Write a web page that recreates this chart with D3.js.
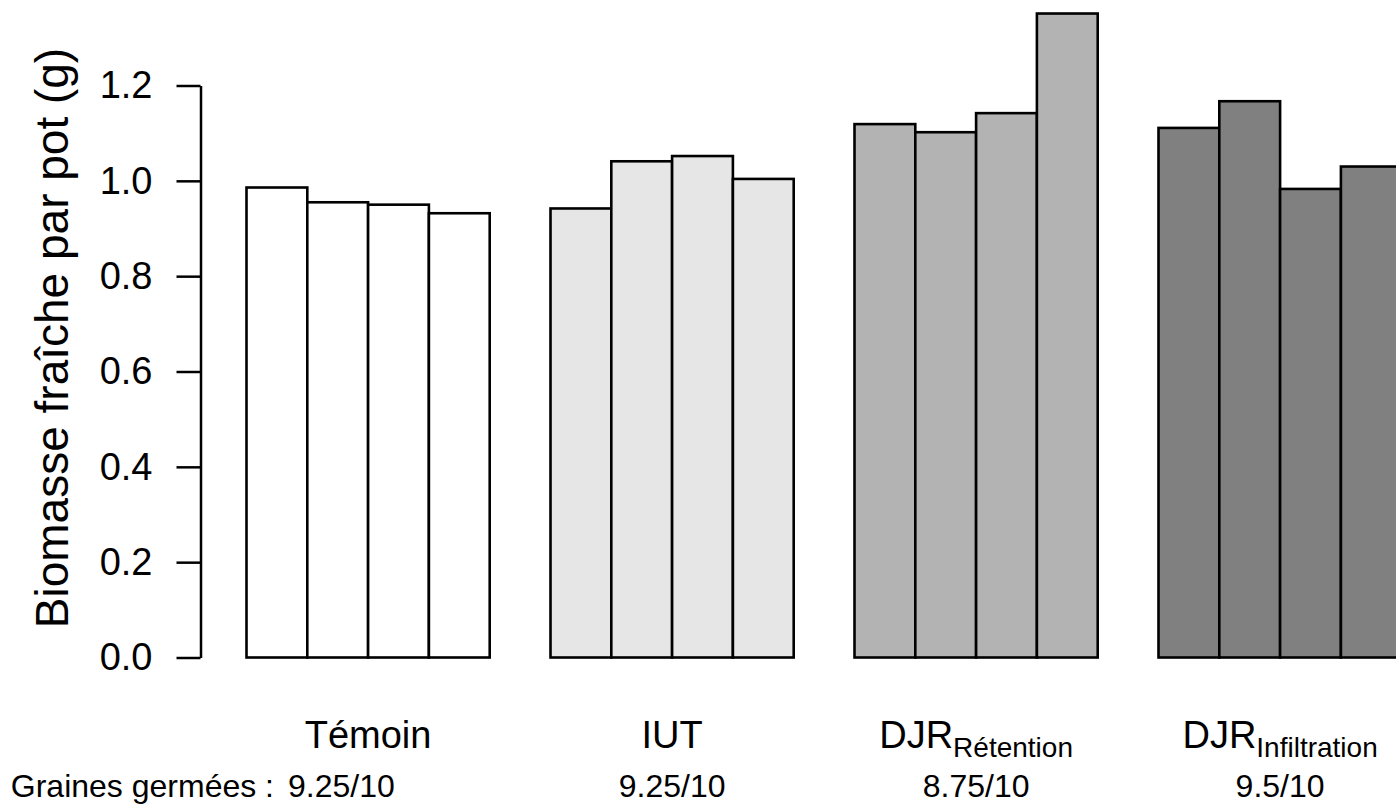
<!DOCTYPE html>
<html>
<head>
<meta charset="utf-8">
<script src="https://cdn.jsdelivr.net/npm/d3@7"></script>
<style>
  body { margin: 0; background: #fff; }
  svg { display: block; font-family: "Liberation Sans", Arial, Helvetica, sans-serif; }
</style>
</head>
<body>
<div id="chart"></div>
<script>
// data
var groupNames = ["Témoin", "IUT", "DJR", "DJR"];
var groupSubs = ["", "", "Rétention", "Infiltration"];
var germination = ["9.25/10", "9.25/10", "8.75/10", "9.5/10"];
var temoin = [0.986, 0.955, 0.950, 0.932];
var iut = [0.942, 1.041, 1.052, 1.004];
var djrRetention = [1.119, 1.102, 1.142, 1.351];
var djrInfiltration = [1.111, 1.167, 0.983, 1.030];
var yTicks = [0, 0.2, 0.4, 0.6, 0.8, 1.0, 1.2];

var series = [temoin, iut, djrRetention, djrInfiltration];
var fills = ["#ffffff", "#e6e6e6", "#b3b3b3", "#808080"];

var width = 1396;
var height = 804;

var svg = d3.select('#chart')
  .append('svg')
    .attr('width', width)
    .attr('height', height);

var y = d3.scaleLinear()
    .domain([0, 1.2])
    .range([657.5, 85.5]);

// groups are 4 bars wide with one bar of space between (R barplot beside=TRUE)
var x0 = d3.scaleBand()
    .domain(d3.range(groupNames.length))
    .range([246.5, 1401.7])
    .paddingInner(0.2)
    .paddingOuter(0);

var x1 = d3.scaleBand()
    .domain(d3.range(4))
    .range([0, x0.bandwidth()]);

// bars
var groups = svg.selectAll('g.grp')
    .data(series)
  .enter()
    .append('g')
    .attr('class', 'grp')
    .attr('transform', function(d, i) { return 'translate(' + x0(i) + ',0)'; });

groups.each(function(vals, gi) {
    d3.select(this).selectAll('rect')
        .data(vals)
      .enter()
        .append('rect')
        .attr('x', function(d, i) { return x1(i); })
        .attr('y', function(d) { return y(d); })
        .attr('width', x1.bandwidth())
        .attr('height', function(d) { return y(0) - y(d); })
        .attr('fill', fills[gi])
        .attr('stroke', '#000')
        .attr('stroke-width', 2.6);
});

// y axis
var yAxis = d3.axisLeft(y)
    .tickValues(yTicks)
    .tickFormat(d3.format('.1f'))
    .tickSize(24)
    .tickSizeOuter(0)
    .tickPadding(24);

var ax = svg.append('g')
    .attr('transform', 'translate(200.5,0)')
    .call(yAxis);
ax.select('.domain').attr('stroke', '#000').attr('stroke-width', 2.5);
ax.selectAll('.tick line').attr('stroke', '#000').attr('stroke-width', 2.5);
ax.selectAll('.tick text')
    .attr('fill', '#000')
    .style('font-family', '"Liberation Sans", Arial, Helvetica, sans-serif')
    .style('font-size', '38px');

// y axis title
svg.append('text')
    .attr('transform', 'translate(68,338) rotate(-90)')
    .attr('text-anchor', 'middle')
    .style('font-size', '46px')
    .text('Biomasse fraîche par pot (g)');

// group labels, with subscripts
var labels = svg.selectAll('text.grplab')
    .data(groupNames)
  .enter()
    .append('text')
    .attr('class', 'grplab')
    .attr('x', function(d, i) { return x0(i) + x0.bandwidth() / 2; })
    .attr('y', 748)
    .attr('text-anchor', 'middle')
    .style('font-size', '38px');

labels.append('tspan').text(function(d) { return d; });
labels.append('tspan')
    .attr('dy', 9)
    .style('font-size', '28px')
    .text(function(d, i) { return groupSubs[i]; });

// germination row
svg.append('text')
    .attr('x', 274)
    .attr('y', 797)
    .attr('text-anchor', 'end')
    .style('font-size', '32px')
    .text('Graines germées :');

svg.selectAll('text.germ')
    .data(germination)
  .enter()
    .append('text')
    .attr('class', 'germ')
    .attr('x', function(d, i) { return i == 0 ? 288 : x0(i) + x0.bandwidth() / 2; })
    .attr('y', 797)
    .attr('text-anchor', function(d, i) { return i == 0 ? 'start' : 'middle'; })
    .style('font-size', '32px')
    .text(function(d) { return d; });
</script>
</body>
</html>
